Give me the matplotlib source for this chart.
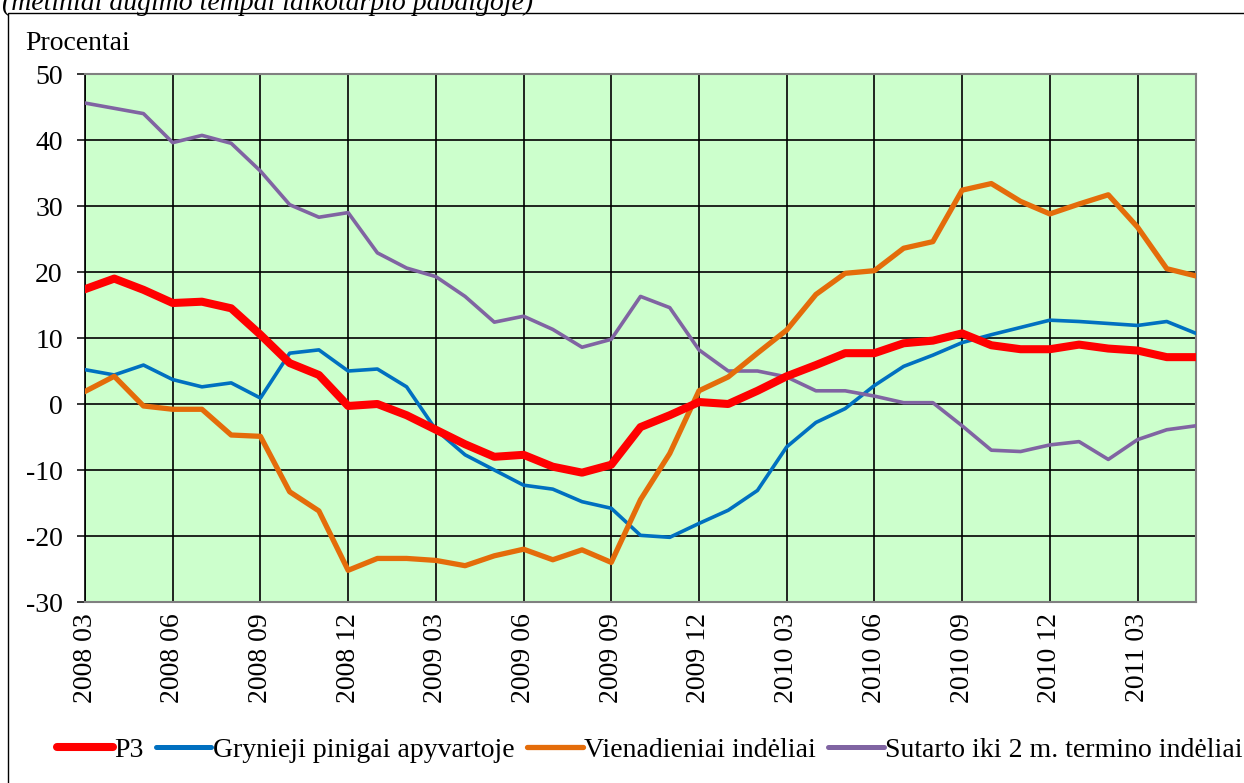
import numpy as np
import matplotlib.pyplot as plt
from matplotlib.patches import Rectangle

plt.rcParams['font.family'] = ['Liberation Serif', 'DejaVu Serif']
plt.rcParams['axes.unicode_minus'] = False

# months 2008 03 .. 2011 05
months = []
for k in range(39):
    m = 3 + k
    months.append('%d %02d' % (2008 + (m - 1) // 12, (m - 1) % 12 + 1))

p3 = [17.4, 19.0, 17.3, 15.3, 15.5, 14.5, 10.5, 6.2, 4.4, -0.3,
      0.0, -1.7, -3.9, -6.1, -8.0, -7.7, -9.5, -10.4, -9.2, -3.5,
      -1.7, 0.3, 0.0, 2.0, 4.2, 5.9, 7.7, 7.7, 9.2, 9.6,
      10.7, 8.9, 8.3, 8.3, 9.0, 8.4, 8.1, 7.1, 7.1]
grynieji = [5.2, 4.4, 5.9, 3.7, 2.6, 3.2, 0.9, 7.7, 8.2, 5.0,
            5.3, 2.6, -3.9, -7.7, -10.0, -12.3, -12.9, -14.8, -15.8, -19.9,
            -20.2, -18.1, -16.1, -13.1, -6.5, -2.8, -0.7, 2.8, 5.7, 7.4,
            9.3, 10.5, 11.6, 12.7, 12.5, 12.2, 11.9, 12.5, 10.7]
vienadieniai = [1.9, 4.2, -0.3, -0.8, -0.8, -4.7, -4.9, -13.3, -16.2, -25.2,
                -23.4, -23.4, -23.7, -24.5, -23.0, -22.0, -23.6, -22.1, -24.0, -14.5,
                -7.5, 2.0, 4.1, 7.7, 11.2, 16.6, 19.8, 20.2, 23.6, 24.6,
                32.4, 33.4, 30.7, 28.8, 30.3, 31.7, 26.8, 20.5, 19.4]
sutarto = [45.6, 44.8, 44.0, 39.6, 40.7, 39.5, 35.3, 30.2, 28.3, 29.0,
           22.9, 20.6, 19.3, 16.3, 12.4, 13.3, 11.3, 8.6, 9.8, 16.3,
           14.6, 8.2, 5.0, 5.0, 4.1, 2.0, 2.0, 1.2, 0.2, 0.2,
           -3.3, -7.0, -7.2, -6.2, -5.7, -8.4, -5.4, -3.9, -3.3]

fs = 20
x = np.arange(len(months))

fig = plt.figure(figsize=(12.44, 7.83), dpi=100)
ax = fig.add_axes([85/1244, 1-602/783, (1196-85)/1244, (602-74)/783])
ax.set_facecolor('#CCFFCC')

ax.plot(x, p3, color='#FF0000', lw=5.8, label='P3', zorder=5)
ax.plot(x, grynieji, color='#0070C0', lw=2.6, label='Grynieji pinigai apyvartoje', zorder=3)
ax.plot(x, vienadieniai, color='#E46C0A', lw=3.8, label='Vienadieniai indėliai', zorder=4)
ax.plot(x, sutarto, color='#8064A2', lw=2.6, label='Sutarto iki 2 m. termino indėliai', zorder=3)

ax.set_xlim(0, 38)
ax.set_ylim(-30, 50)
ax.set_yticks(range(-30, 51, 10))
ax.set_xticks(x[::3])
ax.set_xticklabels(months[::3], rotation=90, fontsize=fs)
ax.tick_params(axis='x', length=0, pad=8)
ax.tick_params(axis='y', length=6, width=1.1, direction='out', pad=10, labelsize=fs)
ax.grid(True, color='black', lw=1.2, zorder=1)
ax.set_axisbelow(True)
for s in ['top', 'right', 'bottom']:
    ax.spines[s].set_color('#808080')
    ax.spines[s].set_linewidth(1.5)
ax.spines['left'].set_color('black')
ax.spines['left'].set_linewidth(1.2)

fig.text(2/1244, 1-10/783, '(metiniai augimo tempai laikotarpio pabaigoje)',
         fontsize=fs, style='italic', va='baseline', ha='left')
fig.text(25/1244, 1-50/783, 'Procentai', fontsize=fs, va='baseline', ha='left')

leg = fig.legend(loc='center', bbox_to_anchor=(650/1244, 1-750/783), ncol=4, frameon=False,
                 fontsize=fs, handlelength=2.0, handletextpad=0.05, columnspacing=0.45,
                 borderaxespad=0)
for h in leg.get_lines():
    h.set_solid_capstyle('round')
    h.set_linewidth(max(h.get_linewidth(), 3.6))

fig.patches.append(Rectangle((8/1244, -0.1), 1.1, 1-13/783+0.1, transform=fig.transFigure,
                             fill=False, ec='black', lw=1.0))

fig.savefig('out.png', dpi=100)
